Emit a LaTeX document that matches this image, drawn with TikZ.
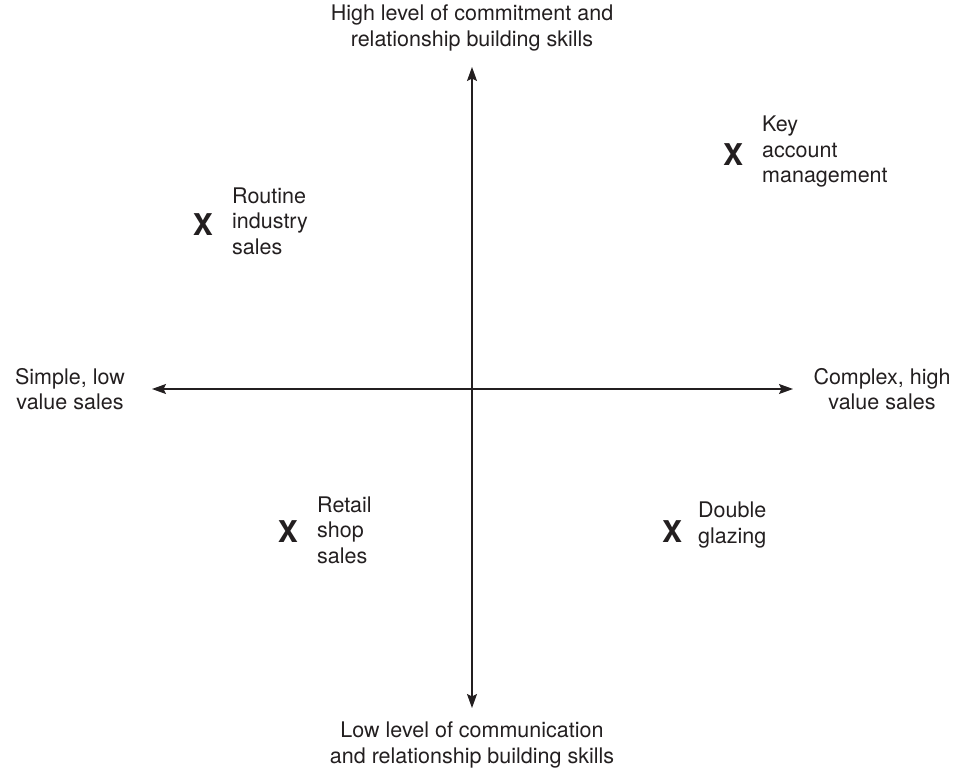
\documentclass[tikz,border=0pt]{standalone}
\usepackage{fontspec}
\setmainfont{TeX Gyre Heros}
\usetikzlibrary{arrows.meta}
\definecolor{ink}{HTML}{231F20}
\tikzset{
  lab/.style={inner sep=0pt, align=center, text=ink, font=\fontsize{21.5}{25.5}\selectfont},
  qlab/.style={inner sep=0pt, align=left, anchor=west, text=ink, font=\fontsize{21.5}{25.5}\selectfont},
  mark X/.style={inner sep=0pt, text=ink, font=\fontsize{30}{30}\selectfont\bfseries},
  axis/.style={draw=ink, line width=1.3pt, {Stealth[length=14pt,width=10pt,inset=2.5pt]}-{Stealth[length=14pt,width=10pt,inset=2.5pt]}}
}
\begin{document}
\begin{tikzpicture}[x=1pt,y=-1pt]
\useasboundingbox (0,0) rectangle (954,771);
\coordinate (top) at (472,67);
\coordinate (bot) at (472,708);
\coordinate (lft) at (152,389);
\coordinate (rgt) at (793,389);
\draw[axis] (top) -- (bot);
\draw[axis] (lft) -- (rgt);
\node[lab] (toplab) at (472,28) {High level of commitment and\\relationship building skills};
\node[lab] (botlab) at (472,745) {Low level of communication\\and relationship building skills};
\node[lab] (lftlab) at (70,389) {Simple, low\\value sales};
\node[lab] (rgtlab) at (882,389) {Complex, high\\value sales};
\node[mark X] (x1) at (733,155) {X};
\node[qlab] (t1) at (762,152) {Key\\account\\management};
\node[mark X] (x2) at (203,225) {X};
\node[qlab] (t2) at (232,221) {Routine\\industry\\sales};
\node[mark X] (x3) at (288,532) {X};
\node[qlab] (t3) at (317,530) {Retail\\shop\\sales};
\node[mark X] (x4) at (672,532) {X};
\node[qlab] (t4) at (698,525) {Double\\glazing};
\end{tikzpicture}
\end{document}
